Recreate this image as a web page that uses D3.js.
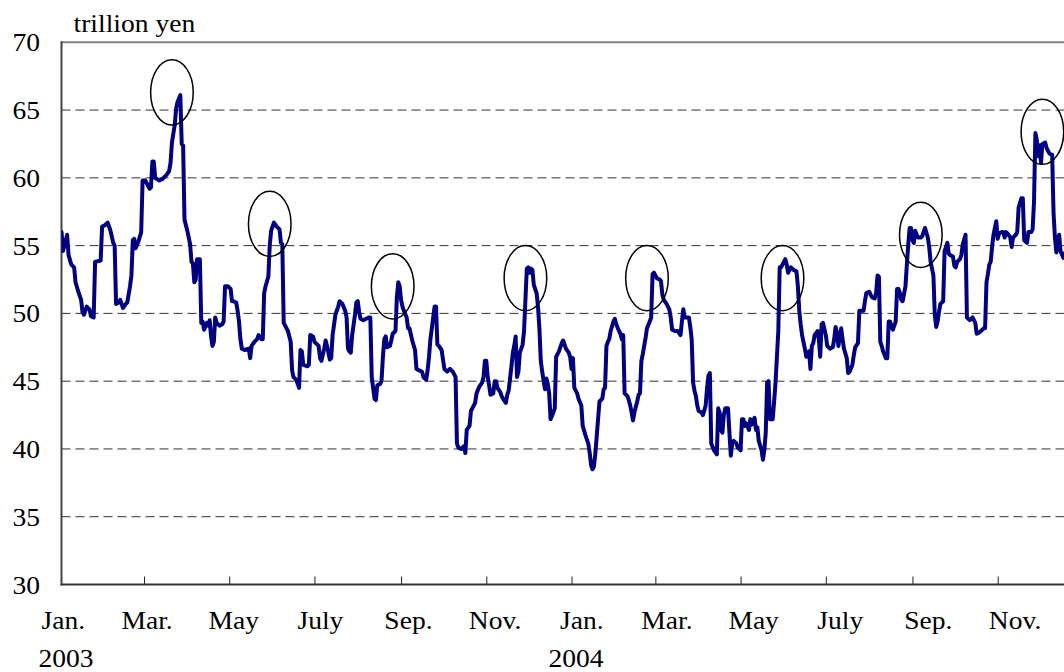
<!DOCTYPE html>
<html><head><meta charset="utf-8">
<script src="https://cdn.jsdelivr.net/npm/d3@7"></script>
<style>
body{margin:0;background:#fff}
svg{display:block}
text{font-family:"Liberation Serif","Times New Roman",serif;font-size:26px;fill:#000}
</style>
</head><body>
<svg id="c" width="1064" height="672"></svg>
<script>
// ---- data (trillion yen, daily) ----
const dates = [
"2003-01-01","2003-01-02","2003-01-05","2003-01-06","2003-01-08","2003-01-10","2003-01-11","2003-01-13","2003-01-15","2003-01-16","2003-01-17","2003-01-19","2003-01-21","2003-01-22","2003-01-24","2003-01-25","2003-01-29","2003-01-30",
"2003-02-01","2003-02-03","2003-02-05","2003-02-07","2003-02-08","2003-02-09","2003-02-11","2003-02-12","2003-02-14","2003-02-16","2003-02-17","2003-02-19","2003-02-20","2003-02-21","2003-02-22","2003-02-23","2003-02-25","2003-02-27","2003-02-28",
"2003-03-02","2003-03-05","2003-03-06","2003-03-07","2003-03-08","2003-03-09","2003-03-12","2003-03-14","2003-03-17","2003-03-19","2003-03-20","2003-03-21","2003-03-23","2003-03-24","2003-03-25","2003-03-27","2003-03-28","2003-03-29","2003-03-30",
"2003-04-01","2003-04-03","2003-04-04","2003-04-05","2003-04-06","2003-04-07","2003-04-08","2003-04-10","2003-04-11","2003-04-12","2003-04-13","2003-04-15","2003-04-16","2003-04-17","2003-04-18","2003-04-19","2003-04-20","2003-04-21","2003-04-22","2003-04-24","2003-04-26","2003-04-27","2003-04-28","2003-04-30",
"2003-05-02","2003-05-03","2003-05-04","2003-05-06","2003-05-07","2003-05-08","2003-05-09","2003-05-10","2003-05-12","2003-05-15","2003-05-16","2003-05-17","2003-05-19","2003-05-21","2003-05-22","2003-05-24","2003-05-25","2003-05-26","2003-05-27","2003-05-29","2003-05-30","2003-05-31",
"2003-06-02","2003-06-04","2003-06-06","2003-06-07","2003-06-08","2003-06-09","2003-06-10","2003-06-12","2003-06-14","2003-06-15","2003-06-16","2003-06-18","2003-06-20","2003-06-21","2003-06-22","2003-06-23","2003-06-26","2003-06-27","2003-06-28","2003-06-30",
"2003-07-01","2003-07-04","2003-07-05","2003-07-06","2003-07-08","2003-07-09","2003-07-10","2003-07-12","2003-07-13","2003-07-14","2003-07-16","2003-07-18","2003-07-19","2003-07-21","2003-07-23","2003-07-24","2003-07-25","2003-07-26","2003-07-27","2003-07-28","2003-07-30","2003-07-31",
"2003-08-01","2003-08-02","2003-08-03","2003-08-05","2003-08-07","2003-08-09","2003-08-10","2003-08-11","2003-08-12","2003-08-13","2003-08-14","2003-08-15","2003-08-17","2003-08-18","2003-08-19","2003-08-20","2003-08-21","2003-08-22","2003-08-24","2003-08-25","2003-08-26","2003-08-28","2003-08-29","2003-08-30","2003-08-31",
"2003-09-01","2003-09-02","2003-09-03","2003-09-05","2003-09-06","2003-09-07","2003-09-09","2003-09-11","2003-09-12","2003-09-14","2003-09-16","2003-09-17","2003-09-19","2003-09-20","2003-09-21","2003-09-22","2003-09-24","2003-09-25","2003-09-26","2003-09-27","2003-09-28","2003-09-30",
"2003-10-01","2003-10-02","2003-10-04","2003-10-06","2003-10-08","2003-10-10","2003-10-11","2003-10-12","2003-10-14","2003-10-16","2003-10-17","2003-10-18","2003-10-20","2003-10-21","2003-10-23","2003-10-24","2003-10-25","2003-10-27","2003-10-29","2003-10-30","2003-10-31",
"2003-11-01","2003-11-02","2003-11-03","2003-11-04","2003-11-06","2003-11-07","2003-11-08","2003-11-09","2003-11-11","2003-11-12","2003-11-13","2003-11-15","2003-11-16","2003-11-17","2003-11-18","2003-11-19","2003-11-20","2003-11-21","2003-11-22","2003-11-23","2003-11-24","2003-11-25","2003-11-27","2003-11-28","2003-11-29","2003-11-30",
"2003-12-01","2003-12-02","2003-12-03","2003-12-04","2003-12-05","2003-12-07","2003-12-08","2003-12-09","2003-12-10","2003-12-11","2003-12-13","2003-12-14","2003-12-15","2003-12-16","2003-12-17","2003-12-19","2003-12-20","2003-12-21","2003-12-22","2003-12-23","2003-12-25","2003-12-26","2003-12-27","2003-12-28","2003-12-30","2003-12-31",
"2004-01-01","2004-01-02","2004-01-03","2004-01-05","2004-01-06","2004-01-08","2004-01-09","2004-01-11","2004-01-13","2004-01-14","2004-01-15","2004-01-16","2004-01-17","2004-01-18","2004-01-19","2004-01-20","2004-01-21","2004-01-23","2004-01-24","2004-01-25","2004-01-26","2004-01-27","2004-01-28","2004-01-29","2004-01-31",
"2004-02-01","2004-02-02","2004-02-04","2004-02-05","2004-02-06","2004-02-07","2004-02-08","2004-02-10","2004-02-11","2004-02-12","2004-02-13","2004-02-14","2004-02-15","2004-02-17","2004-02-18","2004-02-19","2004-02-20","2004-02-21","2004-02-22","2004-02-23","2004-02-24","2004-02-26","2004-02-27","2004-02-28","2004-02-29",
"2004-03-01","2004-03-02","2004-03-04","2004-03-05","2004-03-06","2004-03-07","2004-03-09","2004-03-11","2004-03-12","2004-03-13","2004-03-15","2004-03-17","2004-03-19","2004-03-20","2004-03-21","2004-03-22","2004-03-23","2004-03-25","2004-03-26","2004-03-27","2004-03-28","2004-03-29","2004-03-30","2004-03-31",
"2004-04-01","2004-04-03","2004-04-04","2004-04-06","2004-04-07","2004-04-08","2004-04-09","2004-04-10","2004-04-12","2004-04-14","2004-04-15","2004-04-16","2004-04-17","2004-04-18","2004-04-19","2004-04-20","2004-04-22","2004-04-23","2004-04-24","2004-04-25","2004-04-26","2004-04-28","2004-04-29",
"2004-05-01","2004-05-02","2004-05-03","2004-05-04","2004-05-05","2004-05-07","2004-05-08","2004-05-09","2004-05-11","2004-05-12","2004-05-13","2004-05-14","2004-05-16","2004-05-17","2004-05-18","2004-05-19","2004-05-20","2004-05-21","2004-05-22","2004-05-24","2004-05-25","2004-05-26","2004-05-27","2004-05-28","2004-05-29","2004-05-30","2004-05-31",
"2004-06-01","2004-06-02","2004-06-03","2004-06-04","2004-06-06","2004-06-07","2004-06-08","2004-06-10","2004-06-11","2004-06-12","2004-06-13","2004-06-14","2004-06-15","2004-06-16","2004-06-17","2004-06-19","2004-06-20","2004-06-21","2004-06-22","2004-06-23","2004-06-25","2004-06-26","2004-06-27","2004-06-28","2004-06-29",
"2004-07-01","2004-07-02","2004-07-03","2004-07-04","2004-07-06","2004-07-07","2004-07-08","2004-07-09","2004-07-10","2004-07-12","2004-07-13","2004-07-14","2004-07-16","2004-07-17","2004-07-18","2004-07-20","2004-07-21","2004-07-22","2004-07-24","2004-07-25","2004-07-27","2004-07-28","2004-07-29","2004-07-30",
"2004-08-01","2004-08-03","2004-08-05","2004-08-06","2004-08-07","2004-08-08","2004-08-09","2004-08-10","2004-08-11","2004-08-13","2004-08-14","2004-08-15","2004-08-16","2004-08-17","2004-08-18","2004-08-20","2004-08-21","2004-08-22","2004-08-23","2004-08-24","2004-08-25","2004-08-27","2004-08-28","2004-08-29","2004-08-30","2004-08-31",
"2004-09-01","2004-09-02","2004-09-03","2004-09-04","2004-09-05","2004-09-07","2004-09-08","2004-09-09","2004-09-10","2004-09-12","2004-09-13","2004-09-14","2004-09-16","2004-09-17","2004-09-18","2004-09-19","2004-09-20","2004-09-21","2004-09-23","2004-09-24","2004-09-26","2004-09-27","2004-09-28","2004-09-30",
"2004-10-01","2004-10-02","2004-10-03","2004-10-05","2004-10-06","2004-10-07","2004-10-09","2004-10-10","2004-10-12","2004-10-13","2004-10-14","2004-10-16","2004-10-17","2004-10-19","2004-10-20","2004-10-22","2004-10-23","2004-10-24","2004-10-25","2004-10-26","2004-10-27","2004-10-28","2004-10-29","2004-10-31",
"2004-11-01","2004-11-02","2004-11-04","2004-11-05","2004-11-06","2004-11-07","2004-11-08","2004-11-10","2004-11-11","2004-11-12","2004-11-14","2004-11-15","2004-11-16","2004-11-18","2004-11-19","2004-11-20","2004-11-22","2004-11-23","2004-11-25","2004-11-26","2004-11-27","2004-11-28","2004-11-29","2004-11-30",
"2004-12-01","2004-12-02","2004-12-03","2004-12-05","2004-12-06","2004-12-07","2004-12-08","2004-12-10","2004-12-11","2004-12-12","2004-12-13","2004-12-14","2004-12-15","2004-12-16","2004-12-18","2004-12-19","2004-12-21"
];
const values = [
56.0,54.6,55.8,54.3,53.6,53.4,52.3,51.6,51.0,50.1,49.9,50.5,50.3,49.8,49.7,53.8,53.9,56.4,
56.5,56.7,56.1,55.2,55.0,50.7,50.8,51.0,50.4,50.7,50.8,52.0,52.8,55.4,55.5,54.8,55.3,56.0,59.8,
59.8,59.2,59.3,61.2,61.2,60.0,59.8,59.9,60.2,60.5,61.1,62.6,63.9,65.1,65.6,66.1,62.5,62.4,56.9,
56.1,55.1,53.8,53.7,52.3,52.5,54.0,54.0,49.3,49.4,48.8,49.3,49.1,49.5,48.3,47.6,47.9,49.7,49.3,49.1,49.2,49.4,52.0,52.0,
51.8,50.9,50.9,50.8,50.2,49.4,48.1,47.4,47.3,47.4,46.7,47.6,47.9,48.1,48.4,48.1,48.1,51.5,52.0,52.7,55.0,56.1,
56.7,56.4,56.2,55.2,55.1,49.3,49.1,48.7,47.9,45.8,45.3,45.1,44.5,47.3,47.2,46.2,46.1,46.2,48.4,48.3,
47.9,47.6,46.7,46.5,47.4,48.0,47.6,46.6,46.7,48.4,49.9,50.5,50.9,50.7,50.2,49.7,47.4,47.2,47.1,48.4,49.9,50.8,
50.9,50.1,49.6,49.5,49.6,49.7,49.7,45.3,44.5,43.7,43.6,44.7,44.8,45.0,46.8,48.1,48.3,47.5,47.6,48.0,48.5,48.7,51.2,52.3,52.0,
51.0,50.5,50.2,49.7,48.9,48.9,48.0,47.3,45.9,45.8,45.7,45.3,45.1,45.8,46.8,48.1,49.7,50.5,50.5,47.7,47.6,47.3,
46.6,45.9,45.7,45.9,45.7,45.3,40.4,40.1,40.0,40.2,39.7,41.4,41.7,42.8,43.2,43.4,44.1,44.6,44.9,45.3,46.5,
46.5,45.3,44.7,44.0,44.1,45.0,45.0,44.5,44.2,43.9,43.7,43.4,44.0,44.3,45.2,46.1,47.1,47.6,48.3,45.3,45.7,47.1,47.7,48.7,51.0,53.3,
53.4,53.0,53.3,53.2,52.1,51.5,50.5,48.9,46.5,45.7,44.4,45.2,44.8,44.1,42.2,42.7,43.0,46.8,47.0,47.2,47.8,48.0,47.7,47.4,47.1,46.8,
45.9,46.7,44.5,44.1,43.7,43.2,41.7,41.0,40.4,39.7,38.8,38.5,38.7,39.6,40.9,42.2,43.5,43.7,44.4,44.5,47.6,47.9,48.1,48.7,49.4,
49.6,49.2,48.7,48.5,48.1,48.4,44.1,43.9,43.6,43.2,42.7,42.1,42.7,43.5,44.0,44.1,46.5,47.0,47.6,48.2,48.9,49.4,49.7,52.9,53.0,
52.8,52.6,52.5,52.4,51.4,51.0,50.7,50.3,49.7,48.8,48.7,48.7,48.4,49.4,50.3,49.7,49.7,49.7,49.0,48.1,44.9,44.3,43.9,43.2,
42.8,42.7,42.5,43.2,44.5,45.4,45.6,40.4,39.9,39.6,43.0,42.7,41.4,41.2,42.5,43.0,43.0,41.2,39.5,40.4,40.6,40.4,40.1,
39.9,42.2,42.2,41.7,41.9,41.4,42.2,41.8,42.3,41.4,41.6,40.6,39.9,39.2,39.9,41.2,44.9,45.0,42.2,42.2,43.5,44.9,46.8,48.7,53.4,53.4,53.6,
53.8,54.0,53.6,53.0,53.4,53.3,53.2,53.1,52.0,50.2,49.2,48.4,47.9,47.4,46.8,47.2,45.9,47.6,47.8,48.4,48.7,48.1,46.8,49.2,49.3,
48.4,47.6,47.5,47.4,47.5,48.1,49.0,48.5,47.6,48.9,48.1,47.4,46.7,45.6,45.7,46.2,46.9,47.5,47.8,50.2,50.2,50.2,50.9,51.5,
51.6,51.2,51.1,51.5,52.8,52.7,47.9,47.6,47.2,46.7,46.7,49.4,49.4,49.0,48.8,49.4,51.8,51.8,51.5,51.0,50.9,52.0,53.6,55.1,56.3,56.3,
55.4,55.2,56.1,55.8,55.6,55.6,55.7,56.0,56.3,55.6,54.9,53.8,52.8,49.9,49.0,49.4,50.1,50.7,50.9,54.6,55.2,54.4,54.3,54.2,
53.5,53.4,53.8,54.0,54.3,55.1,55.8,49.7,49.5,49.6,49.7,49.3,48.5,48.6,48.7,48.9,48.9,52.3,52.9,53.6,53.8,54.9,55.8,56.8,
55.5,55.9,56.0,56.0,55.6,56.0,55.9,55.6,54.9,55.6,55.8,56.0,57.8,58.5,58.5,55.4,55.2,56.0,56.0,56.2,58.2,63.3,62.8,61.6,
62.4,61.1,62.5,62.6,62.2,62.0,61.8,61.7,57.4,55.6,54.5,55.4,55.8,54.6,54.1,54.4,54.8
];
const yTicks = [30,35,40,45,50,55,60,65,70];
const gridValues = [35,40,45,50,55,60,65];
const tickDates = ["2003-03-01","2003-05-01","2003-07-01","2003-09-01","2003-11-01","2004-01-01","2004-03-01","2004-05-01","2004-07-01","2004-09-01","2004-11-01"];
const monthLabels = ["Jan.","Mar.","May","July","Sep.","Nov.","Jan.","Mar.","May","July","Sep.","Nov."];
const monthLabelDates = ["2003-01-01","2003-03-01","2003-05-01","2003-07-01","2003-09-01","2003-11-01","2004-01-01","2004-03-01","2004-05-01","2004-07-01","2004-09-01","2004-11-01"];
const yearLabels = ["2003","2004"];
const yearLabelDates = ["2003-01-01","2004-01-01"];
const unitLabel = "trillion yen";
// highlighted peaks (ellipses)
const peakDates = ["2003-03-21","2003-05-30","2003-08-26","2003-11-29","2004-02-24","2004-05-31","2004-09-07","2004-12-03"];
const peakValues = [66.3,56.6,52.0,52.6,52.6,52.6,55.8,63.4];

// ---- drawing ----
(function () {
const parse = d3.timeParse("%Y-%m-%d");
const svg = d3.select("#c");
const W = 1064, H = 672;
const pLeft = 61.5, pTop = 42.3, pBottom = 584.5;
const SX = 1.06;

const x = d3.scaleTime().domain([parse("2003-01-01"), parse("2005-01-01")]).range([61.56, 1082.9]);
const xLab = d3.scaleTime().domain([parse("2003-01-01"), parse("2004-11-01")]).range([63.3, 1015]);
const y = d3.scaleLinear().domain([30, 70]).range([pBottom, pTop]);

svg.append("rect").attr("width", W).attr("height", H).attr("fill", "#fff");

// grid
svg.append("g").selectAll("line").data(gridValues).join("line")
  .attr("x1", pLeft).attr("x2", W).attr("y1", d => y(d)).attr("y2", d => y(d))
  .attr("stroke", "#333").attr("stroke-width", 1).attr("stroke-dasharray", "9,5");

// top border
svg.append("line").attr("x1", pLeft).attr("x2", W).attr("y1", y(70)).attr("y2", y(70))
  .attr("stroke", "#808080").attr("stroke-width", 2);

// x axis with inward ticks
const xAxis = d3.axisBottom(x).tickValues(tickDates.map(parse)).tickSize(-8).tickFormat("");
const gx = svg.append("g").attr("transform", `translate(0,${pBottom})`).call(xAxis);
gx.select(".domain").remove();
gx.selectAll(".tick line").attr("stroke", "#222").attr("stroke-width", 1);
svg.append("line").attr("x1", pLeft - 1).attr("x2", W).attr("y1", pBottom).attr("y2", pBottom)
  .attr("stroke", "#333").attr("stroke-width", 2.2);

// left axis
svg.append("line").attr("x1", pLeft).attr("x2", pLeft).attr("y1", pTop - 1).attr("y2", pBottom + 1)
  .attr("stroke", "#444").attr("stroke-width", 2);

// y labels
svg.append("g").selectAll("text").data(yTicks).join("text")
  .attr("transform", d => `translate(40,${y(d) + 9}) scale(${SX},1)`)
  .attr("text-anchor", "end").text(d => d);

// month labels
svg.append("g").selectAll("text").data(monthLabels).join("text")
  .attr("transform", (d, i) => `translate(${xLab(parse(monthLabelDates[i]))},628.5) scale(${SX},1)`)
  .attr("text-anchor", "middle").text(d => d);

// year labels
svg.append("g").selectAll("text").data(yearLabels).join("text")
  .attr("transform", (d, i) => `translate(${x(parse(yearLabelDates[i])) + 4.5},666.5) scale(${SX},1)`)
  .attr("text-anchor", "middle").text(d => d);

// unit label
svg.append("text").attr("transform", `translate(73.5,32.3) scale(${SX},1)`).text(unitLabel);

// series line
svg.append("clipPath").attr("id", "plotclip").append("rect")
  .attr("x", pLeft).attr("y", 0).attr("width", W - pLeft).attr("height", H);
const n = Math.min(dates.length, values.length);
const pts = d3.range(n).map(i => ({ d: parse(dates[i]), v: values[i] }));
const line = d3.line().x(p => x(p.d)).y(p => y(p.v));
svg.append("path").datum(pts).attr("d", line)
  .attr("clip-path", "url(#plotclip)")
  .attr("fill", "none").attr("stroke", "#000080").attr("stroke-width", 4)
  .attr("stroke-linejoin", "round").attr("stroke-linecap", "round");

// ellipses
svg.append("g").selectAll("ellipse").data(peakDates).join("ellipse")
  .attr("cx", d => x(parse(d))).attr("cy", (d, i) => y(peakValues[i]))
  .attr("rx", 21.3).attr("ry", 32.6)
  .attr("fill", "none").attr("stroke", "#000").attr("stroke-width", 1.5);
})();
</script>
</body></html>
